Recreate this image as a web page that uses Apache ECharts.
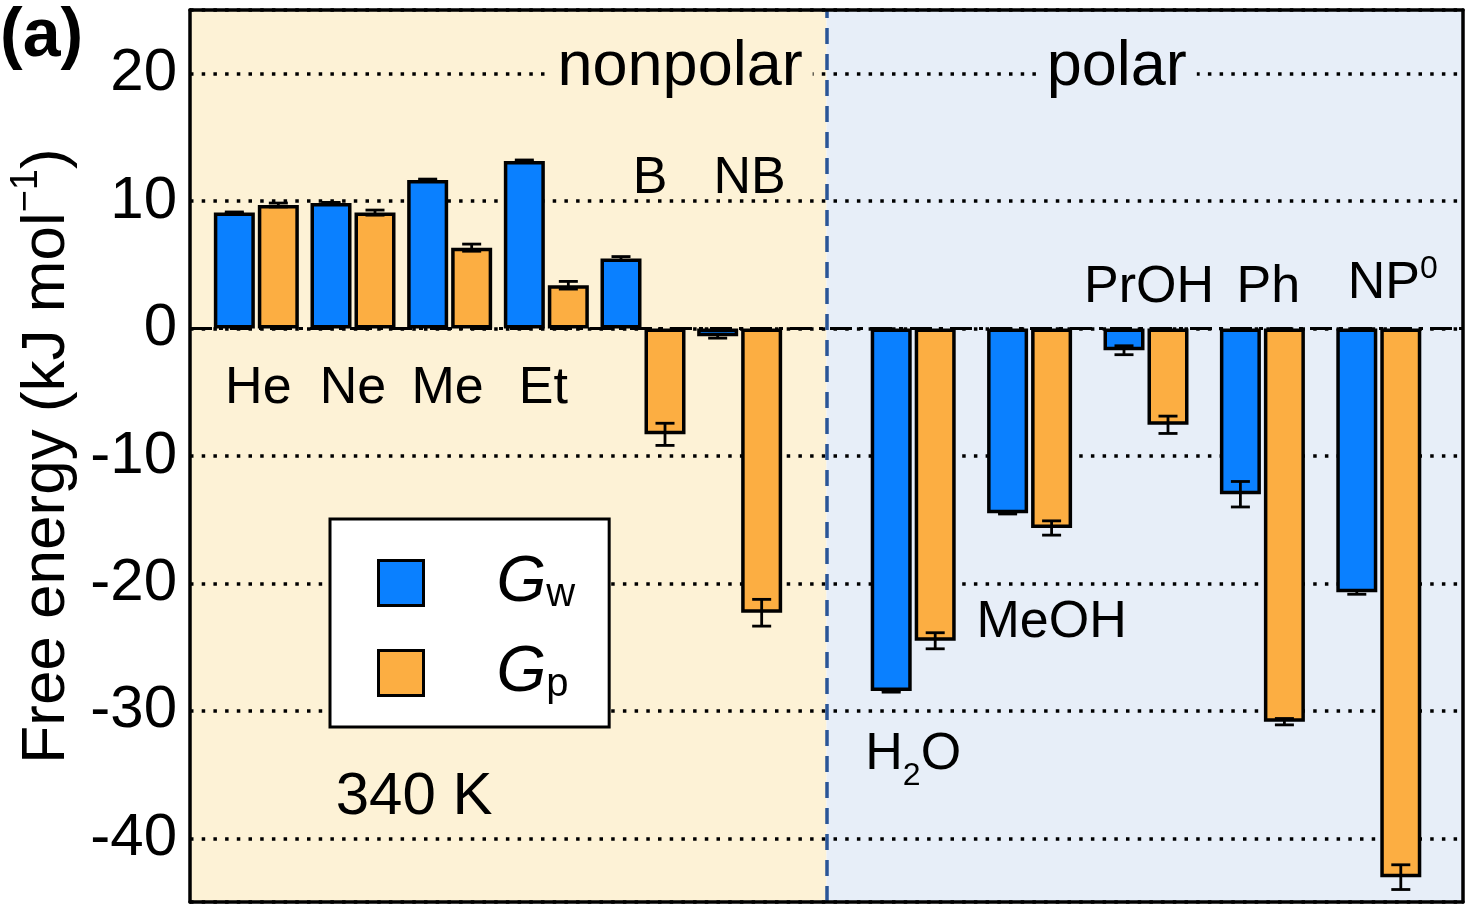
<!DOCTYPE html>
<html><head><meta charset="utf-8">
<script src="https://cdn.jsdelivr.net/npm/echarts@6/dist/echarts.min.js"></script>
<style>html,body{margin:0;padding:0;background:#fff}#c{width:1469px;height:909px}</style>
</head><body><div id="c"></div>
<script>
// ---------------- data ----------------
const categories = ['He', 'Ne', 'Me', 'Et', 'B', 'NB', 'H2O', 'MeOH', 'PrOH', 'Ph', 'NP0'];
const nonpolarCount = 6; // first 6 categories are nonpolar, rest polar
const seriesNames = ['Gw', 'Gp'];
const gw    = [9.1, 9.85, 11.65, 13.15, 5.5, -0.6, -28.45, -14.5, -1.7, -13.0, -20.7];
const gwErr = [0.05, 0.05, 0.08, 0.08, 0.15, 0.15, 0.08, 0.05, 0.35, 1.0, 0.15];
const gp    = [9.7, 9.1, 6.35, 3.4, -8.3, -22.3, -24.5, -15.65, -7.55, -30.85, -43.05];
const gpErr = [0.15, 0.2, 0.28, 0.3, 0.87, 1.05, 0.63, 0.56, 0.68, 0.25, 0.97];
const yMin = -45, yMax = 25;
const panelNames = ['nonpolar', 'polar'];
const temperatureText = '340 K';

// ---------------- style / layout ----------------
const FONT = '"Liberation Sans", Arial, Helvetica, sans-serif';
const BLUE = '#0A80FF', ORANGE = '#FCAE42';
const CREAM = '#FDF2D6', LIGHTBLUE = '#E7EEF8';
const BAR_W = 41, BAR_GAP = '7.3%', BAR_OFF = 22;

// where each category label sits (y in data units, dx px)
const labelLayout = {
  He: {y: -4.7, dx: 2}, Ne: {y: -4.7, dx: 0}, Me: {y: -4.7, dx: -2}, Et: {y: -4.7, dx: -3},
  B: {y: 11.75, dx: 7}, NB: {y: 11.75, dx: 10},
  H2O: {y: -33.4, dx: 0}, MeOH: {y: -23.05, dx: 22},
  PrOH: {y: 3.2, dx: 3}, Ph: {y: 3.2, dx: 6}, NP0: {y: 3.5, dx: 14}
};
const labelRich = {
  H2O: '{b|H}{sub|2}{b|O}',
  NP0: '{b|NP}{sup|0}'
};

const groups = [
  {cats: categories.slice(0, nonpolarCount), from: 0},
  {cats: categories.slice(nonpolarCount), from: nonpolarCount}
];

const chart = echarts.init(document.getElementById('c'), null, {renderer: 'canvas'});

const grids = [
  {left: 190, top: 10, width: 1273, height: 892},
  {left: 208, top: 10, width: 580, height: 892},
  {left: 855, top: 10, width: 582, height: 892}
];

function borderAxis(o) {
  return Object.assign({
    axisLine: {show: true, onZero: false, lineStyle: {color: '#000', width: 3.5}}, axisTick: {show: false},
    axisLabel: {show: false}, splitLine: {show: false}, z: 6
  }, o);
}

const xAxes = [
  borderAxis({gridIndex: 0, type: 'value', min: 0, max: 1, position: 'bottom'}),
  borderAxis({gridIndex: 0, type: 'value', min: 0, max: 1, position: 'top'}),
  {gridIndex: 1, type: 'category', data: groups[0].cats, show: false},
  {gridIndex: 2, type: 'category', data: groups[1].cats, show: false}
];

const yAxes = [
  {gridIndex: 0, type: 'value', min: yMin, max: yMax, position: 'left', z: 1.5,
   axisLine: {show: false, onZero: false},
   axisTick: {show: false},
   axisLabel: {color: '#000', fontSize: 60, fontFamily: FONT, margin: 13,
               showMinLabel: false, showMaxLabel: false},
   splitLine: {show: true, lineStyle: {color: '#000', width: 3.5, type: [3.5, 8.2]}},
   name: '{n|Free energy (kJ mol}{sup|\u22121}{n|)}',
   nameLocation: 'middle', nameRotate: 90, nameGap: 112,
   nameTextStyle: {rich: {
     n: {fontSize: 62, fontFamily: FONT, color: '#000', lineHeight: 70, verticalAlign: 'bottom'},
     sup: {fontSize: 38, fontFamily: FONT, color: '#000', lineHeight: 38, verticalAlign: 'top'}
   }}},
  borderAxis({gridIndex: 0, type: 'value', min: yMin, max: yMax, position: 'left'}),
  borderAxis({gridIndex: 0, type: 'value', min: yMin, max: yMax, position: 'right'}),
  {gridIndex: 1, type: 'value', min: yMin, max: yMax, show: false, splitLine: {show: false}},
  {gridIndex: 2, type: 'value', min: yMin, max: yMax, show: false, splitLine: {show: false}}
];

const series = [];

// background panels
series.push({
  type: 'line', xAxisIndex: 0, yAxisIndex: 0, data: [], z: 0, silent: true,
  markArea: {silent: true, z: 0, data: [
    [{xAxis: 0, yAxis: yMin, itemStyle: {color: CREAM}}, {xAxis: 0.5, yAxis: yMax}],
    [{xAxis: 0.5, yAxis: yMin, itemStyle: {color: LIGHTBLUE}}, {xAxis: 1, yAxis: yMax}]
  ]}
});
// zero line and divider
series.push({
  type: 'line', xAxisIndex: 0, yAxisIndex: 0, data: [], z: 1.8, silent: true,
  markLine: {silent: true, z: 1.8, symbol: ['none', 'none'], label: {show: false}, animation: false,
    data: [
      {yAxis: 0, lineStyle: {color: '#000', width: 3, type: [22, 7, 4, 7]}},
      {xAxis: 0.5, lineStyle: {color: '#2A5597', width: 3.5, type: [16, 10]}}
    ]}
});

const richStyle = {
  b: {fontSize: 52, fontFamily: FONT, fill: '#000'},
  sub: {fontSize: 32, fontFamily: FONT, fill: '#000', padding: [44, 0, 0, 0], verticalAlign: 'bottom'},
  sup: {fontSize: 32, fontFamily: FONT, fill: '#000', padding: [0, 0, 30, 0], verticalAlign: 'top'}
};

function errRender(offset) {
  return function (params, api) {
    const i = api.value(0), v = api.value(1), e = api.value(2);
    const t = api.coord([i, v + e]), b = api.coord([i, v - e]);
    const x = t[0] + offset, hw = 9.5;
    const st = {stroke: '#000', lineWidth: 2.8};
    return {type: 'group', children: [
      {type: 'line', shape: {x1: x, y1: t[1], x2: x, y2: b[1]}, style: st},
      {type: 'line', shape: {x1: x - hw, y1: t[1], x2: x + hw, y2: t[1]}, style: st},
      {type: 'line', shape: {x1: x - hw, y1: b[1], x2: x + hw, y2: b[1]}, style: st}
    ]};
  };
}

// text renderer for annotations: each item {text, dx, style}
function textRender(items) {
  return function (params, api) {
    const it = items[params.dataIndex];
    const p = api.coord([api.value(0), api.value(1)]);
    return {
      type: 'text', x: p[0] + (it.dx || 0), y: p[1], silent: true,
      style: Object.assign({
        text: it.text, fill: '#000', fontFamily: FONT,
        align: 'center', verticalAlign: 'middle', textAlign: 'center', textVerticalAlign: 'middle'
      }, it.style)
    };
  };
}

groups.forEach((g, gi) => {
  const xi = gi + 2, yi = gi + 3;
  const idx = g.cats.map((c, k) => g.from + k);
  series.push({
    name: seriesNames[0], type: 'bar', xAxisIndex: xi, yAxisIndex: yi,
    data: idx.map(i => gw[i]), barWidth: BAR_W, barGap: BAR_GAP, z: 2,
    itemStyle: {color: BLUE, borderColor: '#000', borderWidth: 3.5}, animation: false
  });
  series.push({
    name: seriesNames[1], type: 'bar', xAxisIndex: xi, yAxisIndex: yi,
    data: idx.map(i => gp[i]), barWidth: BAR_W, barGap: BAR_GAP, z: 2,
    itemStyle: {color: ORANGE, borderColor: '#000', borderWidth: 3.5}, animation: false
  });
  series.push({
    type: 'custom', xAxisIndex: xi, yAxisIndex: yi, z: 4, silent: true,
    renderItem: errRender(-BAR_OFF), data: idx.map((i, k) => [k, gw[i], gwErr[i]]), animation: false
  });
  series.push({
    type: 'custom', xAxisIndex: xi, yAxisIndex: yi, z: 4, silent: true,
    renderItem: errRender(BAR_OFF), data: idx.map((i, k) => [k, gp[i], gpErr[i]]), animation: false
  });
  // category labels
  const items = g.cats.map(c => ({
    text: labelRich[c] || ('{b|' + c + '}'), dx: labelLayout[c].dx,
    style: {rich: richStyle, fontSize: 52}
  }));
  series.push({
    type: 'custom', xAxisIndex: xi, yAxisIndex: yi, z: 3, silent: true, animation: false,
    renderItem: textRender(items),
    data: g.cats.map((c, k) => [k, labelLayout[c].y])
  });
});

// panel titles and temperature
const annot = [
  {pos: [0.385, 20.45], text: panelNames[0], style: {fontSize: 63, backgroundColor: CREAM, padding: [0, 10]}},
  {pos: [0.728, 20.45], text: panelNames[1], style: {fontSize: 63, backgroundColor: LIGHTBLUE, padding: [0, 10]}},
  {pos: [0.176, -36.8], text: temperatureText, style: {fontSize: 60}}
];
series.push({
  type: 'custom', xAxisIndex: 0, yAxisIndex: 0, z: 3, silent: true, animation: false,
  renderItem: textRender(annot), data: annot.map(a => a.pos)
});

const subs = {Gw: 'w', Gp: 'p'};
chart.setOption({
  animation: false,
  backgroundColor: '#fff',
  title: {text: '(a)', left: 0, top: 3, padding: 0,
    textStyle: {fontSize: 68, fontWeight: 'bold', fontFamily: FONT, color: '#000'}},
  grid: grids,
  xAxis: xAxes,
  yAxis: yAxes,
  legend: {
    orient: 'vertical', left: 330, top: 519, padding: [22, 34, 22, 47],
    itemWidth: 45, itemHeight: 45, itemGap: 16,
    backgroundColor: '#fff', borderColor: '#000', borderWidth: 3, borderRadius: 0,
    icon: 'rect', selectedMode: false, z: 7,
    data: [
      {name: 'Gw', itemStyle: {color: BLUE, borderColor: '#000', borderWidth: 3}},
      {name: 'Gp', itemStyle: {color: ORANGE, borderColor: '#000', borderWidth: 3}}
    ],
    formatter: n => '{g|G}{s|' + subs[n] + '}',
    textStyle: {rich: {
      g: {fontSize: 64, fontStyle: 'italic', fontFamily: FONT, color: '#000', lineHeight: 64,
          verticalAlign: 'top', padding: [0, 0, 0, 68]},
      s: {fontSize: 40, fontFamily: FONT, color: '#000', lineHeight: 40,
          verticalAlign: 'bottom', padding: [34, 0, 0, 0]}
    }}
  },
  series: series
});
</script></body></html>
